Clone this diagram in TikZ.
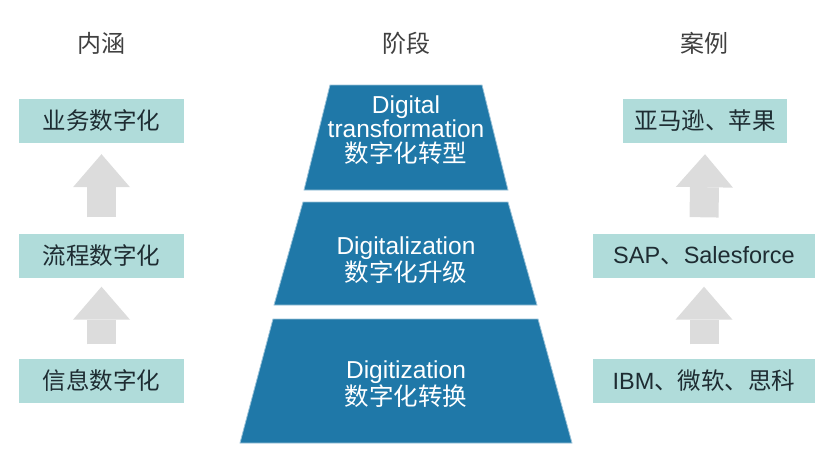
\documentclass[tikz,border=0pt]{standalone}
\usepackage{fontspec}
\setmainfont{Liberation Sans}
\newfontfamily\cjk{Noto Sans CJK SC}
\usetikzlibrary{arrows.meta}

\definecolor{stufeblau}{HTML}{1F78A8}
\definecolor{kastenfarbe}{HTML}{B0DCDA}
\definecolor{pfeilgrau}{HTML}{DCDCDC}
\definecolor{schrift}{HTML}{1E2C32}

\tikzset{
  kopf/.style={font=\cjk\fontsize{24}{26}\selectfont, text=black!75},
  kasten/.style={fill=kastenfarbe, minimum height=44pt, inner sep=0pt, text=schrift,
                 font=\fontsize{23.5}{26}\selectfont},
  pfeil/.style={draw=pfeilgrau, line width=29pt,
                -{Triangle[width=57pt, length=33pt, line width=0pt]}},
  stufe/.style={fill=stufeblau, draw=stufeblau!45!white, line width=0.8pt},
  stufentext/.style={text=white, align=center, font=\fontsize{24.5}{24.5}\selectfont}
}

\begin{document}
\begin{tikzpicture}[x=1pt, y=-1pt]
    \useasboundingbox (0,0) rectangle (834,459);

    % Ueberschriften
    \node[kopf] (kinhalt) at (101,43)  {内涵};
    \node[kopf] (kstufe)  at (406,43)  {阶段};
    \node[kopf] (kfall)   at (704,43)  {案例};

    % Pyramide (drei Stufen)
    \fill[stufe] (330,85)  -- (482,85)  -- (508,190) -- (304,190) -- cycle;
    \fill[stufe] (303,202) -- (508,202) -- (537,305) -- (274,305) -- cycle;
    \fill[stufe] (273,319) -- (538,319) -- (572,443) -- (240,443) -- cycle;

    \node[stufentext] (stufe3) at (406,130) {Digital\\transformation\\{\cjk 数字化转型}};
    \node[stufentext, font=\fontsize{24.5}{27}\selectfont] (stufe2) at (406,260) {Digitalization\\{\cjk 数字化升级}};
    \node[stufentext, font=\fontsize{24.5}{27}\selectfont] (stufe1) at (406,384) {Digitization\\{\cjk 数字化转换}};

    % Inhalt (links)
    \node[kasten, minimum width=165pt] (inh3) at (101.5,121)   {\cjk 业务数字化};
    \node[kasten, minimum width=165pt] (inh2) at (101.5,255.5) {\cjk 流程数字化};
    \node[kasten, minimum width=165pt] (inh1) at (101.5,380.5) {\cjk 信息数字化};

    % Faelle (rechts)
    \node[kasten, minimum width=164pt] (fall3) at (705,121)   {\cjk 亚马逊、苹果};
    \node[kasten, minimum width=222pt] (fall2) at (704,255.5) {SAP{\cjk 、}Salesforce};
    \node[kasten, minimum width=222pt] (fall1) at (704,380.5) {IBM{\cjk 、微软、思科}};

    % Pfeile nach oben
    \draw[pfeil] ([yshift=14pt]inh1.north)  -- ([yshift=-9pt]inh2.south);
    \draw[pfeil] ([yshift=16pt]inh2.north)  -- ([yshift=-11pt]inh3.south);
    \draw[pfeil] ([yshift=14pt]fall1.north) -- ([yshift=-9pt]fall2.south);
    \draw[pfeil] ([yshift=16pt]fall2.north) -- ([yshift=-11pt]fall3.south);
\end{tikzpicture}
\end{document}
